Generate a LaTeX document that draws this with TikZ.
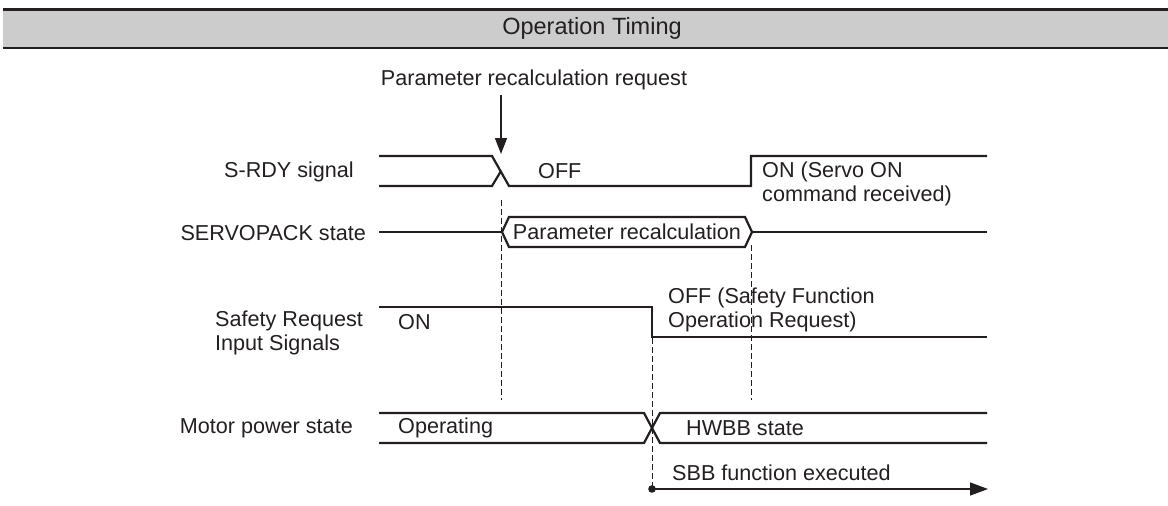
\documentclass[tikz,border=0pt]{standalone}
\usepackage{fontspec}
\setmainfont{Liberation Sans}
\usetikzlibrary{arrows.meta,positioning}
\definecolor{ink}{HTML}{231F20}
\definecolor{headgray}{HTML}{CCCCCC}

\tikzset{
  wave/.style={draw=ink,line width=2.2pt,line join=miter},
  guide/.style={draw=ink,line width=1pt,dash pattern=on 6pt off 3pt},
  lbl/.style={font=\fontsize{21.6}{24}\selectfont,text=ink,inner sep=0pt},
  siglbl/.style={lbl,align=left,anchor=west},
  rowlbl/.style={lbl,anchor=east},
}

\begin{document}
\begin{tikzpicture}[x=1pt,y=-1pt]
\useasboundingbox (0,0) rectangle (1168,506);

% header bar
\fill[headgray] (3,9) rectangle (1168,48);
\draw[ink,line width=3pt] (3,9) -- (1168,9);
\draw[ink,line width=1.5pt] (3,48) -- (1168,48);
\node[lbl,font=\fontsize{23.5}{26}\selectfont] (title) at (592,28) {Operation Timing};

% row names
\node[rowlbl] (srdy) at (354,172) {S-RDY signal};
\node[rowlbl] (spack) at (366,233) {SERVOPACK state};
\node[siglbl] (safety) at (215,333) {Safety Request\\Input Signals};
\node[rowlbl] (motor) at (353,428) {Motor power state};

% request arrow
\node[lbl] (req) at (534,80) {Parameter recalculation request};
\coordinate (reqtip) at (501,154);
\draw[ink,line width=1.5pt,-{Triangle[length=16pt,width=12pt]}] (req.south -| reqtip) ++(0,5) -- (reqtip);

% S-RDY signal
\draw[wave] (379,156) -- (492,156) -- (509,186) -- (751,186) -- (751,156) -- (987,156);
\draw[wave] (379,186) -- (492,186) -- (501,171);
\node[siglbl] (off1) at (538,171) {OFF};
\node[siglbl] (on1) at (762,184) {ON (Servo ON\\command received)};

% SERVOPACK state
\draw[wave] (379,232) -- (502,232);
\draw[wave] (502,232) -- (509,217) -- (745,217) -- (752,232) -- (745,247) -- (509,247) -- cycle;
\draw[wave] (752,232) -- (987,232);
\node[lbl] (recalc) at (627,232) {Parameter recalculation};

% Safety request input signals
\draw[wave] (379,307) -- (652,307) -- (652,337) -- (987,337);
\node[siglbl] (on2) at (398,322) {ON};
\node[siglbl] (off2) at (668,310) {OFF (Safety Function\\Operation Request)};

% motor power state
\draw[wave] (379,413) -- (644,413) -- (660,443) -- (987,443);
\draw[wave] (379,443) -- (644,443) -- (660,413) -- (987,413);
\node[siglbl] (oper) at (398,428) {Operating};
\node[siglbl] (hwbb) at (686,428) {HWBB state};

% timing guides
\draw[guide] (501,200) -- (501,400);
\draw[guide] (751,245) -- (751,400);
\draw[guide] (652,338) -- (652,489);

% SBB arrow
\coordinate (sbbstart) at (652,489);
\coordinate (sbbend) at (988,489);
\fill[ink] (sbbstart) circle (3.8);
\draw[ink,line width=1.5pt,-{Triangle[length=18pt,width=13pt]}] (sbbstart) -- (sbbend);
\node[siglbl] (sbb) at (672,473) {SBB function executed};
\end{tikzpicture}
\end{document}
